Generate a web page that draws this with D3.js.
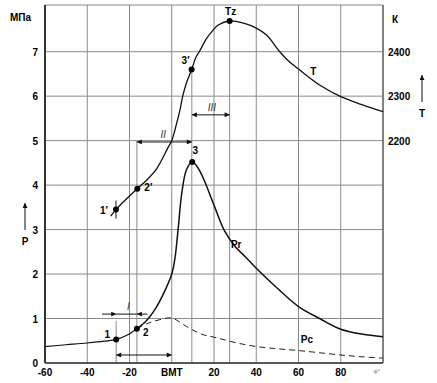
<!DOCTYPE html>
<html><head><meta charset="utf-8">
<script src="https://cdn.jsdelivr.net/npm/d3@7"></script>
<style>body{margin:0;background:#fff}svg{display:block}text{font-family:"Liberation Sans",Arial,sans-serif}</style>
</head><body>
<svg id="c" width="437" height="383"></svg>
<script>
// ---- data ----
const xTicks = [-60,-40,-20,0,20,40,60,80,100];
const xTickLabels = ["-60","-40","-20","ВМТ","20","40","60","80",""];
const pTicks = [0,1,2,3,4,5,6,7];
const tTicks = [2200,2300,2400];
// compression / expansion (motoring) pressure, MPa
const pcSolid = [[-60,0.37],[-50,0.41],[-40,0.45],[-32,0.49],[-26.3,0.53],[-21,0.63],[-16.5,0.77]];
const pcDashed = [[-16.5,0.77],[-12,0.88],[-6,0.97],[0,1.01],[7,0.82],[14,0.65],[21,0.57],[30,0.46],[40,0.37],[50,0.32],[60,0.28],[70,0.23],[80,0.18],[90,0.14],[100,0.11]];
// combustion pressure Pr, MPa
const prCurve = [[-16.5,0.77],[-12,0.95],[-8,1.2],[-4,1.55],[0,2.0],[1.5,2.35],[3,3.0],[4.7,3.8],[7,4.35],[9.7,4.52],[12,4.42],[15,4.15],[20,3.55],[25,2.97],[30,2.62],[35,2.38],[40,2.13],[50,1.68],[60,1.27],[70,1.0],[80,0.76],[90,0.65],[100,0.59]];
// temperature T, K
const tCurve = [[-28.9,2030],[-26.4,2045],[-16.3,2092],[-11.9,2111],[-7.1,2137],[-1.6,2186],[0,2200],[1.5,2224],[3.9,2269],[5.2,2300],[7,2330],[9.4,2360],[11.5,2388],[13.4,2403],[16.5,2430],[19.5,2448],[22,2460],[27.4,2469],[34,2464],[40,2453],[45,2437],[50.6,2403],[55,2380],[60,2361],[70,2325],[80,2299],[90,2281],[100,2265]];
// marked points
const pPoints = [{n:"1",a:-26.3,p:0.53},{n:"2",a:-16.5,p:0.77},{n:"3",a:9.7,p:4.52}];
const tPoints = [{n:"1′",a:-26.4,t:2045},{n:"2′",a:-16.3,t:2092},{n:"3′",a:9.4,t:2360},{n:"Tz",a:27.4,t:2469}];

// ---- scales ----
const svg = d3.select("#c");
const x = d3.scaleLinear().domain([-60,100]).range([45,383]);
const y = d3.scaleLinear().domain([0,8.05]).range([363,5]);
const yT = d3.scaleLinear().domain([1700,2505]).range([363,5]);
const grid = "#8a8a8a";

// grid
svg.append("g").selectAll("line").data(xTicks).join("line")
  .attr("x1",d=>x(d)).attr("x2",d=>x(d)).attr("y1",y(8.05)).attr("y2",y(0))
  .attr("stroke",grid).attr("stroke-width",1);
svg.append("g").selectAll("line").data(pTicks.concat([8.05])).join("line")
  .attr("x1",x(-60)).attr("x2",x(100)).attr("y1",d=>y(d)).attr("y2",d=>y(d))
  .attr("stroke",grid).attr("stroke-width",1);

// extra vertical lines through characteristic points
const vlines = [[-26.3,0,0.95],[-16.5,0,5.0],[9.5,0,6.6],[27.4,0,7.69]];
svg.append("g").selectAll("line").data(vlines).join("line")
  .attr("x1",d=>x(d[0])).attr("x2",d=>x(d[0])).attr("y1",d=>y(d[1])).attr("y2",d=>y(d[2]))
  .attr("stroke",grid).attr("stroke-width",1);

// axes lines
svg.append("line").attr("x1",x(-60)).attr("x2",x(-60)).attr("y1",y(8.05)).attr("y2",y(0)).attr("stroke","#333").attr("stroke-width",2);
svg.append("line").attr("x1",x(-60)).attr("x2",x(100)).attr("y1",y(0)).attr("y2",y(0)).attr("stroke","#333").attr("stroke-width",1.5);
svg.append("line").attr("x1",x(100)).attr("x2",x(100)).attr("y1",y(8.05)).attr("y2",y(0)).attr("stroke","#555").attr("stroke-width",1.2);

// tick labels
const fs = 10;
svg.append("g").selectAll("text").data(pTicks).join("text")
  .attr("x",38).attr("y",d=>y(d)+4).attr("text-anchor","end")
  .attr("font-size",fs).attr("font-weight","bold").text(d=>d);
svg.append("g").selectAll("text").data(xTicks).join("text")
  .attr("x",d=>x(d)).attr("y",376).attr("text-anchor","middle")
  .attr("font-size",fs).attr("font-weight","bold").text((d,i)=>xTickLabels[i]);
svg.append("g").selectAll("text").data(tTicks).join("text")
  .attr("x",388).attr("y",d=>yT(d)+4).attr("text-anchor","start")
  .attr("font-size",fs).attr("font-weight","bold").text(d=>d);
svg.append("text").attr("x",10).attr("y",21).attr("font-size",fs).attr("font-weight","bold").text("МПа");
svg.append("text").attr("x",392).attr("y",23).attr("font-size",fs).attr("font-weight","bold").text("К");
svg.append("text").attr("x",377).attr("y",373).attr("font-size",6).attr("fill","#666").attr("text-anchor","middle").text("φ°");

// arrow markers
const defs = svg.append("defs");
defs.append("marker").attr("id","ah").attr("viewBox","0 0 10 10").attr("refX",10).attr("refY",5)
  .attr("markerWidth",7).attr("markerHeight",5).attr("markerUnits","userSpaceOnUse").attr("orient","auto")
  .append("path").attr("d","M0,0L10,5L0,10z").attr("fill","#111");
defs.append("marker").attr("id","ahs").attr("viewBox","0 0 10 10").attr("refX",0).attr("refY",5)
  .attr("markerWidth",7).attr("markerHeight",5).attr("markerUnits","userSpaceOnUse").attr("orient","auto")
  .append("path").attr("d","M10,0L0,5L10,10z").attr("fill","#111");
// axis name arrows
svg.append("line").attr("x1",25).attr("x2",25).attr("y1",230).attr("y2",203).attr("stroke","#111").attr("marker-end","url(#ah)");
svg.append("text").attr("x",25).attr("y",245).attr("text-anchor","middle").attr("font-size",fs).attr("font-weight","bold").text("P");
svg.append("line").attr("x1",422).attr("x2",422).attr("y1",102).attr("y2",75).attr("stroke","#111").attr("marker-end","url(#ah)");
svg.append("text").attr("x",422).attr("y",117).attr("text-anchor","middle").attr("font-size",fs).attr("font-weight","bold").text("T");

// curves
const line = d3.line().x(d=>x(d[0])).y(d=>y(d[1])).curve(d3.curveCatmullRom.alpha(0.5));
const lineT = d3.line().x(d=>x(d[0])).y(d=>yT(d[1])).curve(d3.curveCatmullRom.alpha(0.5));
svg.append("path").attr("d",line(pcSolid)).attr("fill","none").attr("stroke","#111").attr("stroke-width",1.2);
svg.append("path").attr("d",line(pcDashed)).attr("fill","none").attr("stroke","#222").attr("stroke-width",1).attr("stroke-dasharray","6,4");
svg.append("path").attr("d",line(prCurve)).attr("fill","none").attr("stroke","#111").attr("stroke-width",1.5);
svg.append("path").attr("d",lineT(tCurve)).attr("fill","none").attr("stroke","#111").attr("stroke-width",1.3);

// small tick through 1'
svg.append("line").attr("x1",x(-26.4)).attr("x2",x(-26.4)).attr("y1",yT(2045)-9).attr("y2",yT(2045)+9).attr("stroke","#111").attr("stroke-width",1);

// points
svg.append("g").selectAll("circle").data(pPoints).join("circle")
  .attr("cx",d=>x(d.a)).attr("cy",d=>y(d.p)).attr("r",3).attr("fill","#000");
svg.append("g").selectAll("circle").data(tPoints).join("circle")
  .attr("cx",d=>x(d.a)).attr("cy",d=>yT(d.t)).attr("r",3).attr("fill","#000");

// point labels
const lbl = (px,py,t)=>svg.append("text").attr("x",px).attr("y",py).attr("text-anchor","middle").attr("font-size",fs).attr("font-weight","bold").text(t);
lbl(x(pPoints[0].a)-9,y(pPoints[0].p)-1,"1");
lbl(x(pPoints[1].a)+9,y(pPoints[1].p)+7,"2");
lbl(x(pPoints[2].a)+3,y(pPoints[2].p)-8,"3");
lbl(x(tPoints[0].a)-12,yT(tPoints[0].t)+4,"1′");
lbl(x(tPoints[1].a)+11,yT(tPoints[1].t)+2,"2′");
lbl(x(tPoints[2].a)-6,yT(tPoints[2].t)-5,"3′");
lbl(x(tPoints[3].a)+1,yT(tPoints[3].t)-6,"Tz");
lbl(x(67),yT(2348),"T");
lbl(x(30.5),y(2.67)+4,"Pr");
lbl(x(64),y(0.44),"Pc");

// dimension arrows
function dim(a1,a2,py){
  svg.append("line").attr("x1",x(a1)).attr("x2",x(a2)).attr("y1",py).attr("y2",py).attr("stroke","#111").attr("stroke-width",1)
    .attr("marker-start","url(#ahs)").attr("marker-end","url(#ah)");
}
// I : arrows pointing inward to the lines of points 1 and 2
svg.append("line").attr("x1",x(-33)).attr("x2",x(-26.3)).attr("y1",y(1.1)).attr("y2",y(1.1)).attr("stroke","#111").attr("marker-end","url(#ah)");
svg.append("line").attr("x1",x(-26.3)).attr("x2",x(-16.5)).attr("y1",y(1.1)).attr("y2",y(1.1)).attr("stroke","#111");
svg.append("line").attr("x1",x(-11.5)).attr("x2",x(-16.5)).attr("y1",y(1.1)).attr("y2",y(1.1)).attr("stroke","#111").attr("marker-end","url(#ah)");
dim(-26.3,0,y(0.18));
dim(-16.5,9.5,y(4.97));
dim(9.5,27.4,y(5.58));
const roman = (px,py,t)=>svg.append("text").attr("x",px).attr("y",py).attr("text-anchor","middle").attr("font-size",10).attr("font-style","italic").attr("font-family","Liberation Serif, serif").attr("fill","#333").text(t);
roman(x(-20.5),y(1.1)-4,"I");
roman(x(-4),y(4.97)-4,"II");
roman(x(19),y(5.58)-4,"III");
</script>
</body></html>
